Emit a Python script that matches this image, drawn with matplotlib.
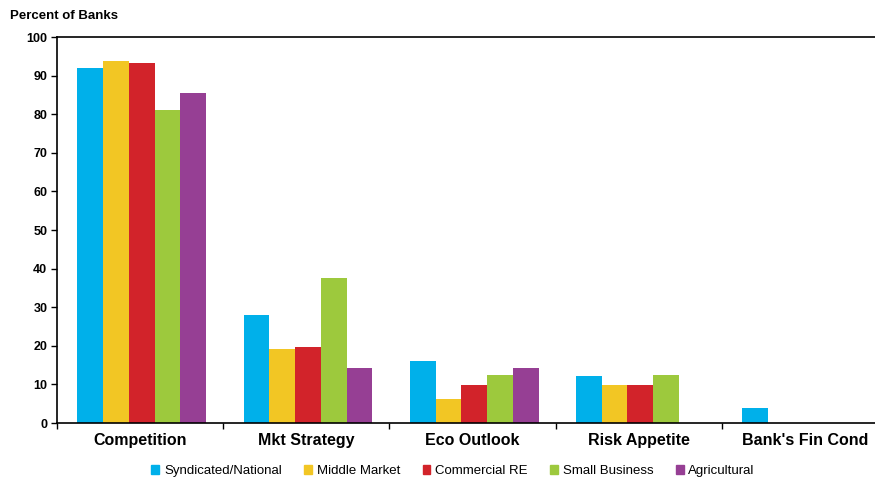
import matplotlib.pyplot as plt
import numpy as np
from matplotlib.patches import Patch

categories = ["Competition", "Mkt Strategy", "Eco Outlook", "Risk Appetite", "Bank's Fin Cond"]
series_names = ["Syndicated/National", "Middle Market", "Commercial RE", "Small Business", "Agricultural"]
syndicated = [92.0, 28.0, 16.1, 12.2, 3.9]
middle_market = [93.8, 19.2, 6.2, 9.8, 0.0]
commercial_re = [93.3, 19.7, 9.8, 9.8, 0.0]
small_business = [81.1, 37.6, 12.4, 12.4, 0.0]
agricultural = [85.5, 14.2, 14.2, 0.0, 0.0]
colors = ["#00B0EA", "#F2C624", "#D2232A", "#9DC93D", "#963F94"]

plt.rcParams['font.family'] = ['Liberation Sans', 'DejaVu Sans']

fig = plt.figure(figsize=(8.75, 4.79), dpi=100)
# axes run slightly past the right edge of the figure
ax = fig.add_axes([57 / 875, 1 - 423 / 479, (888 - 57) / 875, (423 - 37) / 479])

x = np.arange(len(categories))
w = 0.155
all_series = [syndicated, middle_market, commercial_re, small_business, agricultural]
for i, (vals, c) in enumerate(zip(all_series, colors)):
    ax.bar(x + (i - 2) * w + 0.01, vals, w, color=c, label=series_names[i], zorder=2)

ax.set_xlim(-0.5, len(categories) - 0.5)
ax.set_ylim(0, 100)
ax.set_yticks(range(0, 101, 10))
ax.set_yticklabels([str(v) for v in range(0, 101, 10)], fontsize=9, fontweight='bold')

# category boundaries carry the tick marks, names sit in the middle
ax.set_xticks(np.arange(-0.5, len(categories), 1.0))
ax.set_xticklabels([])
ax.set_xticks(x, minor=True)
ax.set_xticklabels(categories, minor=True, fontsize=11.5, fontweight='bold')
ax.tick_params(axis='x', which='minor', length=0, pad=7)
ax.tick_params(axis='x', which='major', length=4, direction='out', width=1)
ax.tick_params(axis='y', length=4, width=1, direction='out', pad=3)

for s in ['left', 'bottom', 'top']:
    ax.spines[s].set_linewidth(1.2)
ax.spines['right'].set_visible(False)

fig.text(10 / 875, 1 - 16 / 479, "Percent of Banks", fontsize=9.5, fontweight='bold', va='center')

handles = [Patch(color=c) for c in colors]
fig.legend(handles, series_names, loc='center', bbox_to_anchor=(453 / 875, 1 - 471 / 479),
           ncol=5, frameon=False, fontsize=9.5, handlelength=0.6, handleheight=0.6,
           handletextpad=0.35, columnspacing=1.7)

fig.savefig("out.png", dpi=100)
